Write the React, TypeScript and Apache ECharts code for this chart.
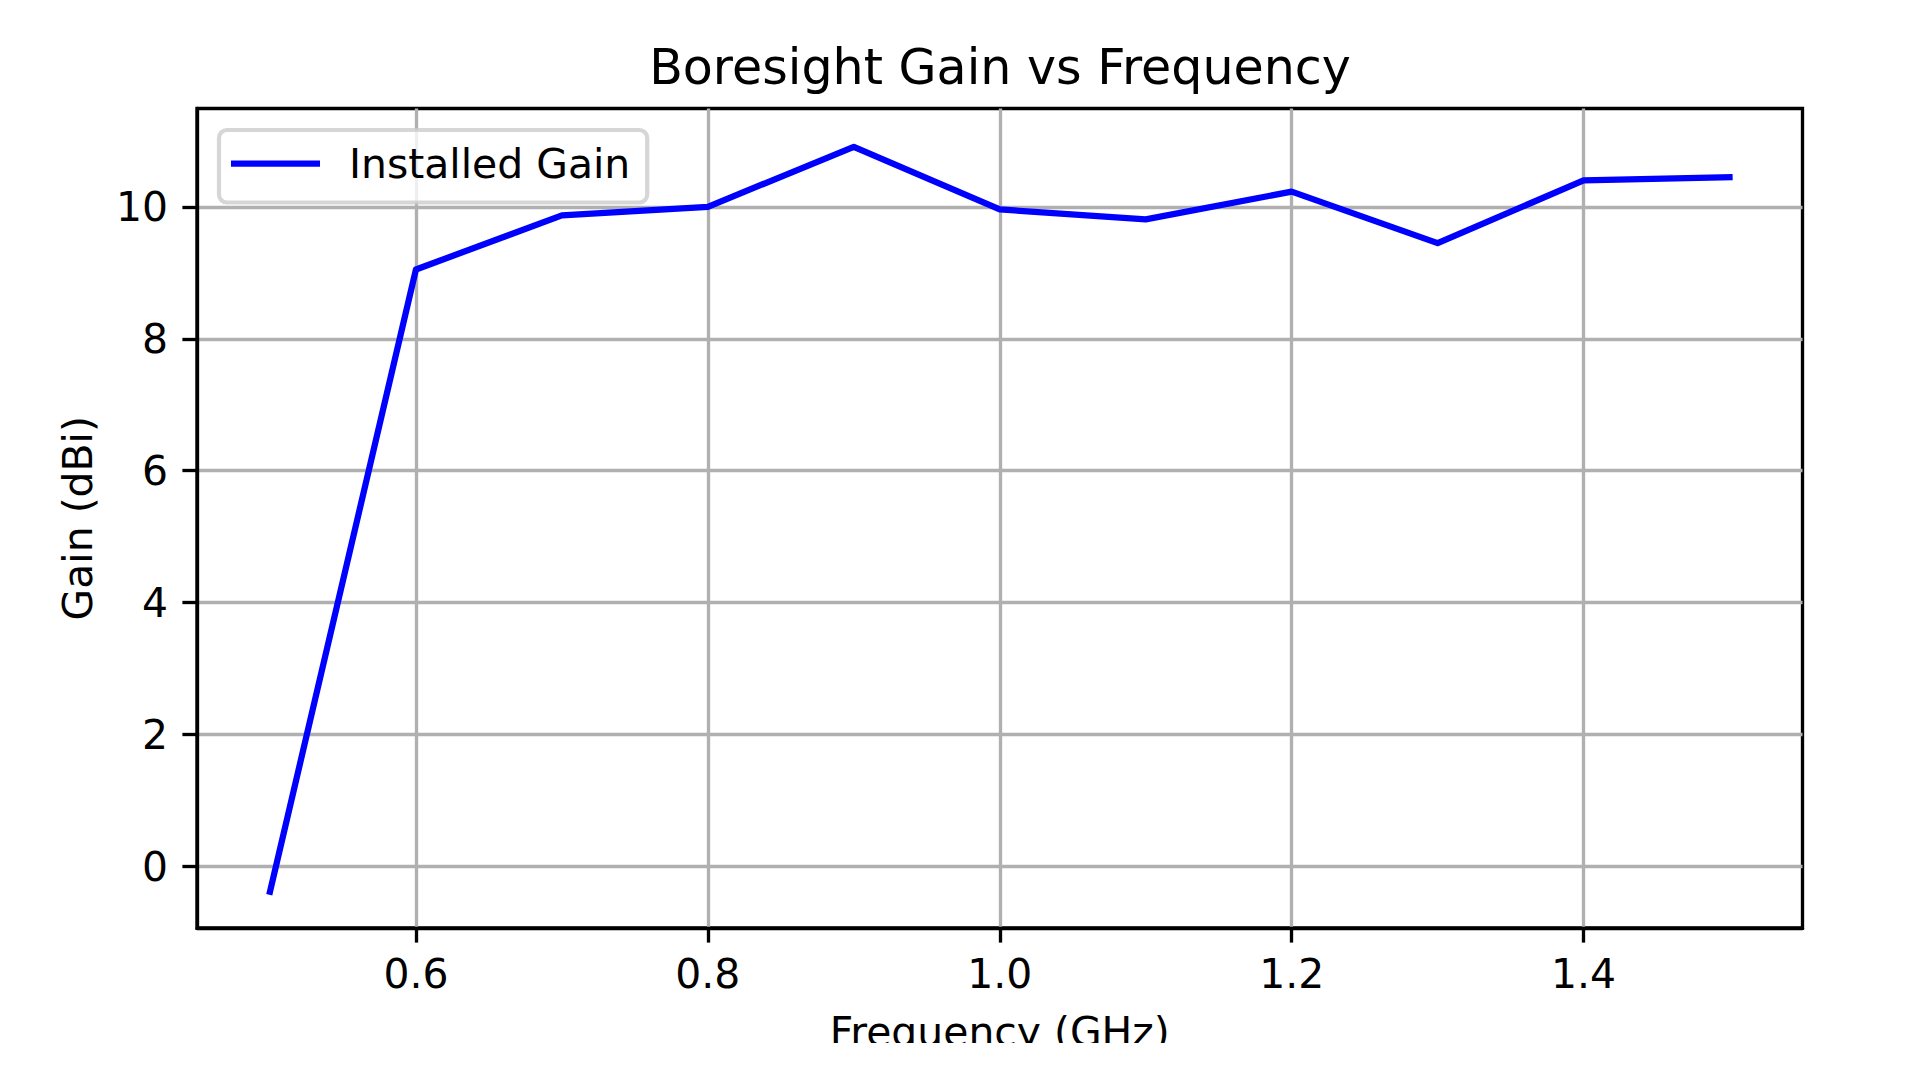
import React, { useEffect, useRef } from "react";
import * as echarts from "echarts";

const titleText = "Boresight Gain vs Frequency";
const xAxisLabel = "Frequency (GHz)";
const yAxisLabel = "Gain (dBi)";
const seriesName = "Installed Gain";

const frequencies = [0.5, 0.6, 0.7, 0.8, 0.9, 1.0, 1.1, 1.2, 1.3, 1.4, 1.5];
const gains = [-0.38, 9.05, 9.87, 10.0, 10.91, 9.96, 9.81, 10.23, 9.45, 10.4, 10.45];

const xTickValues = [0.6, 0.8, 1.0, 1.2, 1.4];
const yTickValues = [0, 2, 4, 6, 8, 10];
const xRange = [0.45, 1.55];
const yRange = [-0.93, 11.49];

const FONT = '"DejaVu Sans", "Liberation Sans", sans-serif';
const FS = 40.9;
const TITLE_FS = 49.1;
const LW = 3.33;

export default function App() {
  const ref = useRef<HTMLDivElement>(null);

  useEffect(() => {
    document.body.style.margin = "0";
    document.body.style.background = "#ffffff";
    const chart = echarts.init(ref.current as HTMLDivElement, null, { renderer: "svg" });

    const data = frequencies.map((f, i) => [f, gains[i]]);

    const option: any = {
      animation: false,
      backgroundColor: "#ffffff",
      textStyle: { fontFamily: FONT },
      graphic: [
        {
          type: "text",
          x: 1000,
          y: 42.5,
          z: 10,
          style: {
            text: titleText,
            fill: "#000000",
            fontSize: TITLE_FS,
            fontFamily: FONT,
            lineHeight: TITLE_FS,
            textAlign: "center",
            textVerticalAlign: "top",
          },
        },
      ],
      grid: {
        left: 197,
        right: 117.5,
        top: 108.5,
        bottom: 115,
        show: true,
        borderColor: "#000000",
        borderWidth: LW,
        backgroundColor: "transparent",
        outerBoundsMode: "none",
        containLabel: false,
      },
      legend: {
        data: [seriesName],
        left: 219,
        top: 130,
        orient: "horizontal",
        icon: "rect",
        itemWidth: 89,
        itemHeight: 6.25,
        padding: [13, 17, 18.5, 12],
        backgroundColor: "rgba(255,255,255,0.8)",
        borderColor: "rgba(204,204,204,0.8)",
        borderWidth: 4.2,
        borderRadius: 8,
        selectedMode: false,
        textStyle: {
          fontFamily: FONT,
          fontSize: FS,
          lineHeight: FS,
          color: "#000000",
          padding: [0, 0, 0, 24],
        },
      },
      xAxis: {
        type: "value",
        min: xRange[0],
        max: xRange[1],
        name: xAxisLabel,
        nameLocation: "middle",
        nameGap: 84,
        nameTextStyle: { fontFamily: FONT, fontSize: FS, lineHeight: FS, color: "#000000" },
        axisLine: { show: true, onZero: false, lineStyle: { color: "#000000", width: LW } },
        axisTick: {
          show: true,
          length: 14.6,
          customValues: xTickValues,
          lineStyle: { color: "#000000", width: LW },
        },
        axisLabel: {
          show: true,
          margin: 25.8,
          customValues: xTickValues,
          fontFamily: FONT,
          fontSize: FS,
          lineHeight: FS,
          color: "#000000",
          formatter: (v: number) => v.toFixed(1),
        },
        splitLine: { show: true, lineStyle: { color: "#b0b0b0", width: LW } },
      },
      yAxis: {
        type: "value",
        min: yRange[0],
        max: yRange[1],
        name: yAxisLabel,
        nameLocation: "middle",
        nameGap: 99,
        nameRotate: 90,
        nameTextStyle: { fontFamily: FONT, fontSize: FS, lineHeight: FS, color: "#000000" },
        axisLine: { show: true, onZero: false, lineStyle: { color: "#000000", width: LW } },
        axisTick: {
          show: true,
          length: 14.6,
          customValues: yTickValues,
          lineStyle: { color: "#000000", width: LW },
        },
        axisLabel: {
          show: true,
          margin: 29,
          customValues: yTickValues,
          fontFamily: FONT,
          fontSize: FS,
          lineHeight: FS,
          color: "#000000",
          formatter: (v: number) => String(Math.round(v)),
        },
        splitLine: { show: true, lineStyle: { color: "#b0b0b0", width: LW } },
      },
      series: [
        {
          name: seriesName,
          type: "line",
          data,
          symbol: "none",
          showSymbol: false,
          z: 3,
          itemStyle: { color: "#0000ff" },
          lineStyle: { color: "#0000ff", width: 6.25, cap: "square", join: "round" },
        },
      ],
    };

    chart.setOption(option);
    return () => chart.dispose();
  }, []);

  return (
    <div style={{ width: 1920, height: 1080, background: "#ffffff", overflow: "hidden" }}>
      <div ref={ref} style={{ width: 1920, height: 1043 }} />
    </div>
  );
}
